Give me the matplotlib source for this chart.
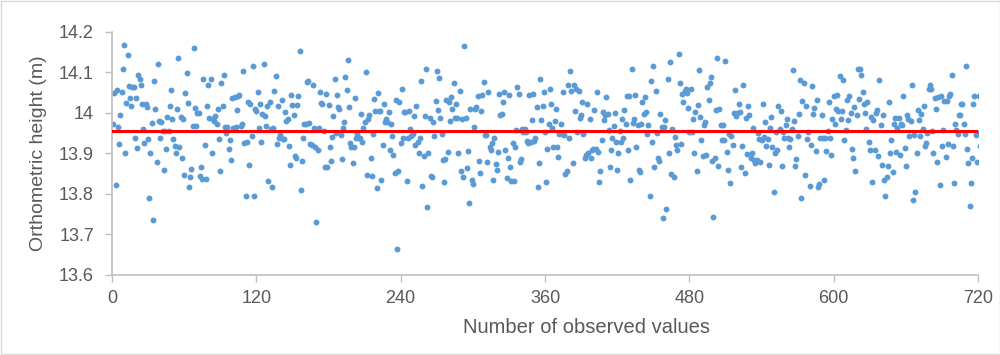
import numpy as np
import matplotlib
matplotlib.use("Agg")
import matplotlib.pyplot as plt
from matplotlib.patches import Rectangle

h_001_060 = [13.974, 14.050, 13.822, 14.056, 13.966, 13.923, 13.994, 14.052, 14.108, 14.168,
             13.902, 14.025, 14.143, 14.066, 14.036, 14.017, 14.063, 14.065, 13.937, 14.036,
             13.913, 14.093, 14.084, 14.068, 14.023, 13.960, 13.927, 14.023, 14.014, 13.935,
             13.790, 13.902, 13.976, 13.736, 14.078, 14.010, 13.878, 14.121, 13.980, 13.937,
             13.978, 13.955, 13.859, 13.955, 13.912, 13.990, 13.955, 14.018, 14.056, 13.986,
             13.935, 13.919, 13.902, 14.010, 14.137, 13.915, 13.991, 13.888, 13.986, 13.847]
h_061_120 = [14.050, 14.099, 14.024, 13.817, 13.843, 13.862, 13.968, 14.160, 14.013, 13.968,
             14.000, 13.999, 13.845, 13.866, 13.837, 14.084, 13.920, 13.837, 14.017, 14.068,
             13.988, 14.084, 13.902, 13.984, 13.980, 13.992, 13.972, 14.011, 13.935, 13.856,
             14.074, 14.018, 14.095, 13.966, 13.951, 13.966, 13.912, 13.933, 13.884, 14.036,
             13.964, 14.039, 13.966, 14.007, 14.043, 14.045, 13.968, 13.973, 14.103, 13.926,
             13.794, 13.929, 14.027, 13.872, 14.023, 13.943, 14.117, 13.796, 14.010, 14.005,
             14.052, 13.962]
h_121_185 = [14.021, 13.929, 13.998, 14.122, 13.992, 13.968, 14.017, 13.831, 14.027, 13.961,
             13.817, 13.962, 14.054, 14.092, 13.924, 14.018, 13.939, 13.945, 14.031, 13.935,
             13.935, 14.003, 13.980, 13.986, 13.919, 13.872, 14.045, 14.019, 13.994, 13.894,
             13.888, 14.019, 14.041, 14.152, 13.811, 13.882, 13.937, 13.974, 13.972, 14.077,
             14.078, 13.975, 13.924, 13.922, 14.068, 13.964, 13.916, 13.731, 13.908, 13.964,
             14.051, 14.025, 14.023, 13.955, 13.867, 14.047, 13.866, 14.019, 13.915, 13.882,
             13.940, 13.992, 14.084]
h_186_248 = [13.951, 14.045, 14.014, 14.011, 13.946, 13.886, 13.964, 13.978, 14.090, 14.056,
             14.130, 14.014, 13.927, 13.916, 13.876, 13.916, 14.037, 13.939, 13.949, 13.939,
             13.939, 13.998, 13.929, 13.964, 13.978, 14.100, 13.848, 13.984, 13.995, 13.888,
             13.845, 13.949, 14.035, 14.005, 13.814, 14.050, 14.006, 14.006, 13.835, 13.921,
             14.023, 13.978, 13.984, 13.978, 14.002, 13.908, 13.972, 13.943, 13.896, 13.851,
             14.033, 13.665, 13.856, 14.027, 13.925, 14.058, 13.939, 14.003, 14.003, 13.831,
             13.939, 14.006, 13.960]
h_249_310 = [13.943, 13.949, 13.992, 13.920, 14.017, 13.929, 13.902, 13.937, 14.080, 13.820,
             13.894, 13.992, 14.108, 13.769, 13.900, 13.987, 13.845, 13.843, 13.978, 13.943,
             14.029, 14.103, 14.008, 14.086, 13.987, 13.947, 13.884, 13.830, 13.886, 14.033,
             13.904, 14.027, 13.980, 14.039, 14.009, 14.075, 13.987, 14.023, 13.987, 13.900,
             14.055, 13.857, 13.984, 13.843, 14.166, 13.988, 13.864, 13.906, 13.778, 14.011,
             13.834, 13.825, 13.966, 14.011, 14.014, 14.041, 13.882, 13.851, 14.006, 14.045,
             14.077, 13.946]
h_311_372 = [13.945, 13.880, 14.051, 13.915, 13.909, 13.927, 13.834, 13.937, 13.874, 13.860,
             13.904, 14.047, 13.995, 13.998, 14.027, 14.051, 13.909, 13.839, 13.888, 14.045,
             13.866, 13.833, 13.927, 13.831, 13.917, 13.957, 14.065, 14.047, 13.879, 13.886,
             13.961, 13.954, 13.961, 13.953, 13.931, 13.925, 14.044, 13.929, 13.982, 14.047,
             13.931, 13.938, 14.014, 13.817, 13.876, 14.084, 13.982, 14.017, 14.051, 13.953,
             13.829, 13.912, 13.974, 14.058, 14.021, 13.964, 13.915, 13.980, 14.009, 13.915,
             13.892, 13.947, 13.974]
h_373_435 = [13.947, 14.052, 13.945, 13.849, 13.857, 14.070, 13.939, 14.104, 14.054, 13.876,
             14.070, 14.006, 14.059, 13.954, 14.055, 13.988, 13.995, 14.027, 13.949, 13.888,
             13.897, 14.023, 13.900, 13.984, 13.888, 13.908, 13.911, 14.007, 13.911, 14.051,
             13.904, 13.830, 13.857, 13.933, 14.002, 13.982, 13.995, 14.039, 13.998, 13.957,
             13.866, 13.908, 13.938, 13.968, 13.999, 13.929, 13.860, 13.900, 13.955, 13.929,
             13.986, 13.938, 14.007, 13.974, 14.041, 13.908, 14.041, 13.834, 14.108, 13.976,
             13.986, 14.045, 13.916, 13.970]
h_436_497 = [13.859, 13.855, 13.972, 14.027, 13.998, 14.039, 14.003, 13.947, 13.970, 13.794,
             14.078, 13.929, 14.115, 13.867, 14.054, 13.951, 13.888, 13.882, 13.998, 13.965,
             13.741, 13.965, 13.982, 13.762, 14.085, 13.900, 14.127, 13.849, 13.960, 13.843,
             13.941, 13.920, 13.908, 14.145, 14.074, 13.923, 14.047, 14.027, 14.054, 14.058,
             14.050, 14.013, 13.953, 14.058, 13.953, 13.984, 13.902, 14.003, 13.857, 14.019,
             14.105, 13.991, 13.933, 13.894, 13.970, 13.978, 13.897, 14.063, 14.032, 14.074,
             14.088, 13.882, 13.743]
h_498_560 = [13.888, 14.007, 14.135, 13.868, 14.010, 13.970, 13.933, 13.970, 13.933, 14.129,
             13.904, 13.860, 13.947, 13.826, 13.943, 13.920, 14.000, 14.056, 13.992, 14.000,
             14.023, 14.002, 13.866, 13.919, 14.070, 13.853, 13.988, 13.898, 14.017, 13.995,
             13.890, 13.901, 13.962, 13.884, 13.876, 13.884, 13.950, 13.935, 13.879, 13.933,
             14.021, 13.941, 13.978, 13.919, 13.935, 13.872, 13.964, 13.990, 13.915, 13.804,
             13.902, 13.953, 13.908, 14.017, 13.961, 14.006, 13.868, 13.953, 13.939, 13.970,
             13.985, 13.939, 13.915]
h_561_623 = [13.935, 13.960, 14.107, 13.980, 13.868, 13.886, 13.943, 13.998, 14.081, 13.790,
             14.029, 14.074, 13.847, 14.018, 13.935, 13.953, 13.819, 13.920, 14.066, 13.998,
             14.013, 13.906, 14.031, 13.817, 13.825, 13.939, 13.995, 13.937, 13.835, 13.937,
             13.906, 13.955, 14.027, 13.939, 13.896, 13.984, 14.043, 13.972, 14.010, 14.045,
             14.006, 14.092, 13.984, 14.006, 14.081, 13.933, 13.957, 14.031, 13.982, 14.043,
             13.999, 13.912, 13.888, 14.014, 13.857, 13.994, 14.109, 14.035, 14.109, 14.093,
             14.052, 14.023, 14.000]
h_624_684 = [13.960, 14.027, 13.929, 13.909, 13.991, 13.829, 13.982, 13.908, 14.000, 14.008,
             13.893, 14.082, 13.970, 13.872, 13.996, 13.834, 13.794, 13.841, 13.868, 14.027,
             13.901, 13.933, 13.855, 13.972, 13.987, 13.904, 13.962, 13.987, 13.896, 13.974,
             13.970, 14.041, 13.913, 13.868, 13.995, 13.986, 13.942, 13.980, 14.068, 13.785,
             13.945, 13.806, 13.900, 14.007, 13.982, 13.943, 13.998, 13.961, 14.018, 13.919,
             13.927, 13.951, 14.059, 14.070, 14.059, 13.955, 13.902, 14.037, 14.009, 13.878,
             14.039, 13.821]
h_685_720 = [14.041, 13.919, 13.957, 14.030, 13.891, 14.029, 13.923, 14.041, 14.047, 14.093,
             13.919, 13.826, 13.974, 13.957, 13.949, 13.996, 13.994, 14.023, 14.023, 13.974,
             13.949, 14.115, 13.912, 13.876, 13.770, 13.826, 13.888, 14.023, 14.041, 13.945,
             13.879, 13.951, 14.043, 13.919, 14.021, 13.961]

mean_height = 13.956
x_ticks = [0, 120, 240, 360, 480, 600, 720]
y_ticks = [13.6, 13.7, 13.8, 13.9, 14.0, 14.1, 14.2]
y_tick_labels = ["13.6", "13.7", "13.8", "13.9", "14", "14.1", "14.2"]

heights = np.array(h_001_060 + h_061_120 + h_121_185 + h_186_248 + h_249_310 + h_311_372
                   + h_373_435 + h_436_497 + h_498_560 + h_561_623 + h_624_684 + h_685_720)
obs = np.arange(1, len(heights) + 1)

plt.rcParams['font.family'] = ['Liberation Sans', 'DejaVu Sans']
text_col = '#595959'
axis_col = '#bfbfbf'

fig = plt.figure(figsize=(10, 3.55), dpi=100)
fig.patches.append(Rectangle((0.0005, 0.0015), 0.999, 0.997, transform=fig.transFigure,
                             fill=False, edgecolor='#d9d9d9', linewidth=1))
ax = fig.add_axes([0.112, 0.2254, 0.866, 0.6845])

ax.scatter(obs, heights, s=18, color='#5b9bd5', linewidths=0, zorder=2)
ax.plot([0, 720], [mean_height, mean_height], color='#ff0000', linewidth=2.2, zorder=3)

ax.set_xlim(0, 720)
ax.set_ylim(13.6, 14.2)
ax.set_xticks(x_ticks)
ax.set_yticks(y_ticks)
ax.set_yticklabels(y_tick_labels)

for side in ['top', 'right']:
    ax.spines[side].set_visible(False)
for side in ['left', 'bottom']:
    ax.spines[side].set_color(axis_col)
    ax.spines[side].set_linewidth(1.2)
ax.tick_params(axis='both', direction='out', length=5, width=1, color=axis_col,
               labelcolor=text_col, labelsize=13, pad=6)
ax.tick_params(axis='y', pad=8)

ax.set_xlabel('Number of observed values', fontsize=14.5, color=text_col)
ax.xaxis.set_label_coords(0.548, -0.175)
ax.set_ylabel('Orthometric height (m)', fontsize=14, color=text_col)
ax.yaxis.set_label_coords(-0.075, 0.5)

fig.savefig('out.png', dpi=100)
